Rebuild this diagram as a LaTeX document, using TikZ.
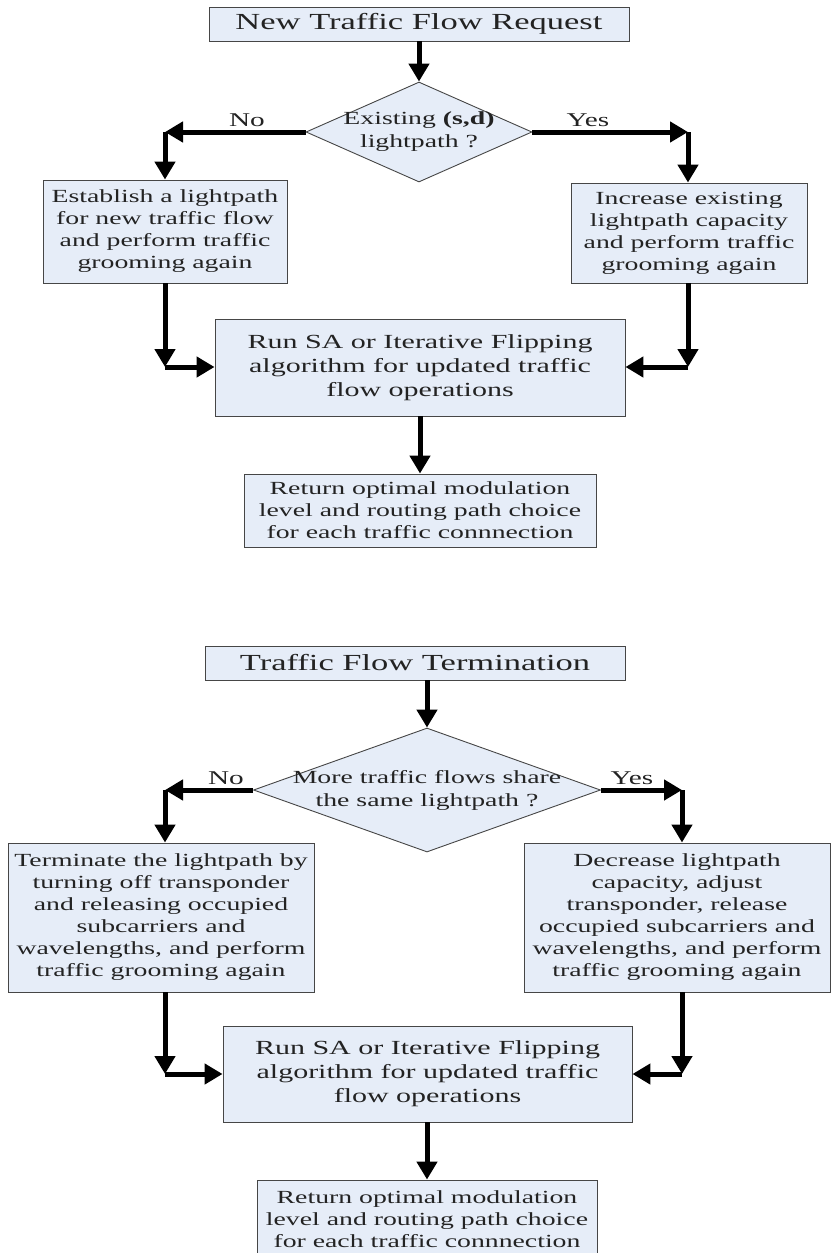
\documentclass[tikz,border=0pt]{standalone}
\usepackage{fontspec}
\setmainfont{Liberation Serif}[FakeStretch=1.5]
\usetikzlibrary{shapes.geometric,arrows.meta}
\definecolor{boxfill}{RGB}{230,237,248}
\definecolor{boxline}{RGB}{70,70,70}
\definecolor{txtcol}{RGB}{35,35,35}

\begin{document}
\begin{tikzpicture}[x=1pt,y=-1pt,
        % 结点样式名称/.style={形状,边框颜色,填充色,字体}
        TitleNode/.style={rectangle,draw=boxline,fill=boxfill,line width=0.9pt,inner sep=0pt,minimum height=34pt,text=txtcol,font=\fontsize{23}{26}\selectfont},
        StepNode/.style={rectangle,draw=boxline,fill=boxfill,line width=0.9pt,inner sep=0pt,align=center,text=txtcol,font=\fontsize{18.5}{22}\selectfont},
        RunNode/.style={StepNode,font=\fontsize{20}{24}\selectfont},
        AskNode/.style={diamond,draw=boxline,fill=boxfill,line width=0.9pt,inner sep=0pt},
        AskText/.style={align=center,text=txtcol,font=\fontsize{18.5}{23}\selectfont},
        AnsNode/.style={text=txtcol,anchor=base,inner sep=0pt,font=\fontsize{19.5}{22}\selectfont},
        Flow/.style={line width=5pt,-{Triangle[length=18pt,width=20pt]}}]

        % 画布大小
        \useasboundingbox (0,0) rectangle (833,1253);

        % 上半部分:新业务请求
        \node[TitleNode,minimum width=420pt] (req) at (419,24) {New Traffic Flow Request};
        \node[AskNode,minimum width=226pt,minimum height=100pt] (ask1) at (419,132) {};
        \node[AskText] (ask1t) at (ask1.center) {Existing \textbf{(s,d)}\\lightpath ?};
        \node[StepNode,minimum width=244pt,minimum height=103pt] (est) at (165,231.5) {Establish a lightpath\\for new traffic flow\\and perform traffic\\grooming again};
        \node[StepNode,minimum width=236pt,minimum height=100pt] (inc) at (689,233) {Increase existing\\lightpath capacity\\and perform traffic\\grooming again};
        \node[RunNode,minimum width=410pt,minimum height=97pt] (run1) at (420,367.5) {Run SA or Iterative Flipping\\algorithm for updated traffic\\flow operations};
        \node[StepNode,minimum width=352pt,minimum height=73pt] (ret1) at (420,510.5) {Return optimal modulation\\level and routing path choice\\for each traffic connnection};

        % 折线拐点
        \coordinate (c1) at (165,132);
        \coordinate (c2) at (688,132);
        \coordinate (c3) at (165,367);
        \coordinate (c4) at (688,367);

        % 下半部分:业务终止
        \node[TitleNode,minimum width=420pt] (term) at (415,663) {Traffic Flow Termination};
        \node[AskNode,minimum width=347pt,minimum height=124pt] (ask2) at (427,790) {};
        \node[AskText] (ask2t) at (ask2.center) {More traffic flows share\\the same lightpath ?};
        \node[StepNode,minimum width=306pt,minimum height=149pt] (off) at (161,917.5) {Terminate the lightpath by\\turning off transponder\\and releasing occupied\\subcarriers and\\wavelengths, and perform\\traffic grooming again};
        \node[StepNode,minimum width=306pt,minimum height=149pt] (dec) at (677,917.5) {Decrease lightpath\\capacity, adjust\\transponder, release\\occupied subcarriers and\\wavelengths, and perform\\traffic grooming again};
        \node[RunNode,minimum width=409pt,minimum height=96pt] (run2) at (427.5,1074) {Run SA or Iterative Flipping\\algorithm for updated traffic\\flow operations};
        \node[StepNode,minimum width=340pt,minimum height=78pt] (ret2) at (427,1219) {Return optimal modulation\\level and routing path choice\\for each traffic connnection};

        \coordinate (d1) at (165,790);
        \coordinate (d2) at (682,790);
        \coordinate (d3) at (165,1074);
        \coordinate (d4) at (682,1074);

        % 分支文字
        \node[AnsNode] (no1) at (247,126) {No};
        \node[AnsNode] (yes1) at (588,126) {Yes};
        \node[AnsNode] (no2) at (226,784) {No};
        \node[AnsNode] (yes2) at (632,784) {Yes};

        % 连线
        \draw[Flow] (req.south) -- (ask1.north);
        \draw[Flow] (ask1.west) -- (c1);
        \draw[Flow] (c1) -- (c1 |- est.north);
        \draw[Flow] (ask1.east) -- (c2);
        \draw[Flow] (c2) -- (c2 |- inc.north);
        \draw[Flow] (c3 |- est.south) -- (c3);
        \draw[Flow] (c3) -- (c3 -| run1.west);
        \draw[Flow] (c4 |- inc.south) -- (c4);
        \draw[Flow] (c4) -- (c4 -| run1.east);
        \draw[Flow] (run1.south) -- (ret1.north);

        \draw[Flow] (term.south -| ask2.north) -- (ask2.north);
        \draw[Flow] (ask2.west) -- (d1);
        \draw[Flow] (d1) -- (d1 |- off.north);
        \draw[Flow] (ask2.east) -- (d2);
        \draw[Flow] (d2) -- (d2 |- dec.north);
        \draw[Flow] (d3 |- off.south) -- (d3);
        \draw[Flow] (d3) -- (d3 -| run2.west);
        \draw[Flow] (d4 |- dec.south) -- (d4);
        \draw[Flow] (d4) -- (d4 -| run2.east);
        \draw[Flow] (run2.south -| ret2.north) -- (ret2.north);
\end{tikzpicture}
\end{document}
